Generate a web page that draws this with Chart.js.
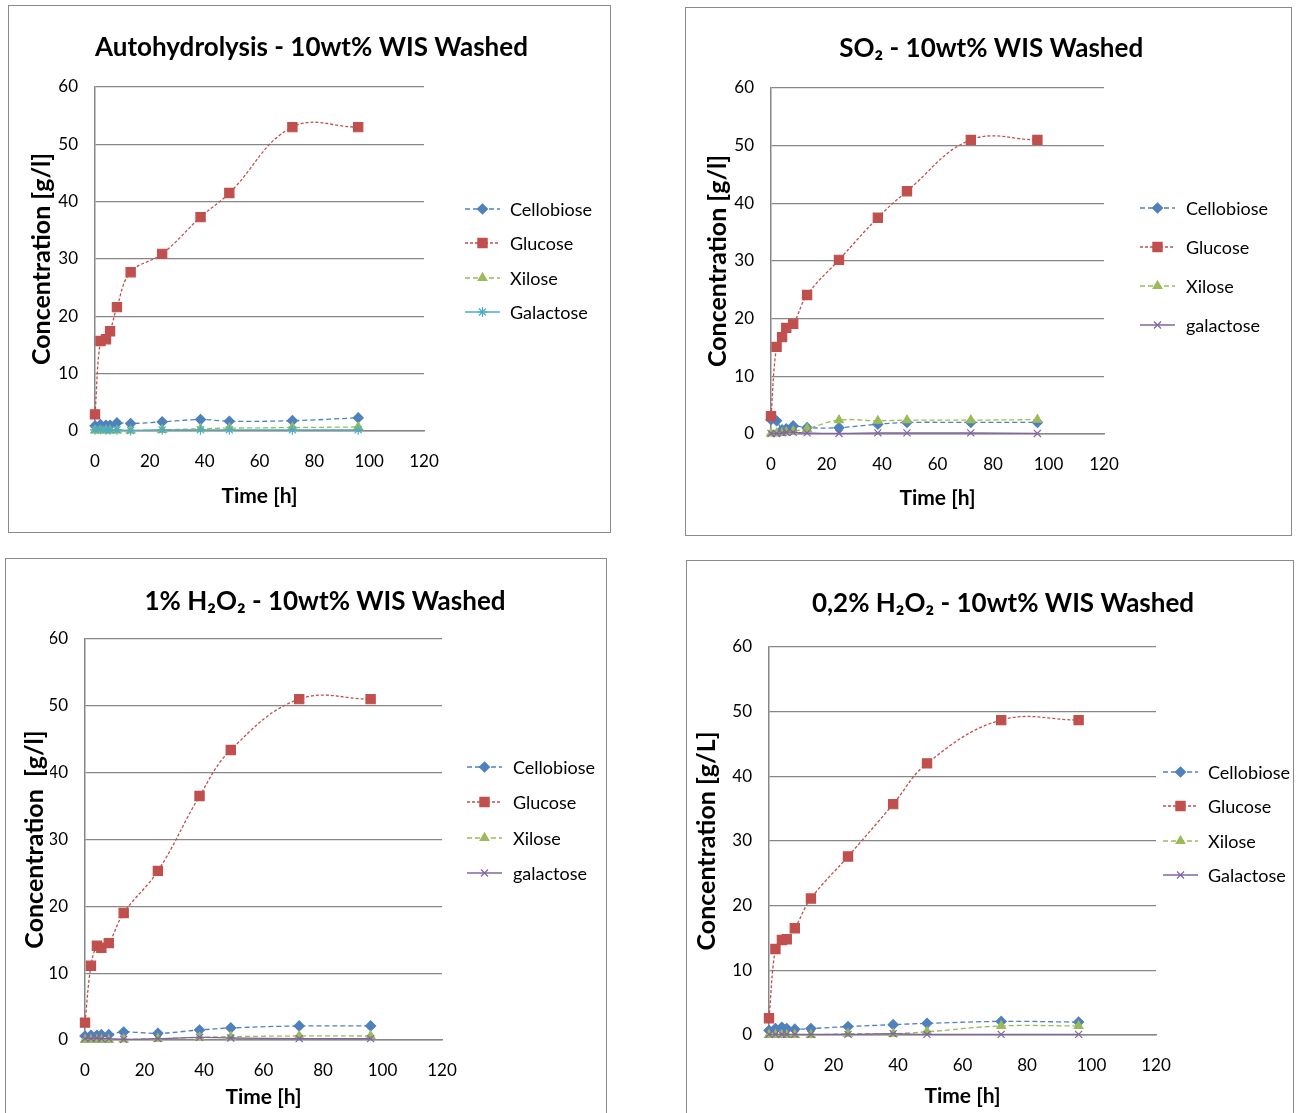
<!DOCTYPE html>
<html>
<head>
<meta charset="utf-8">
<script src="https://cdn.jsdelivr.net/npm/chart.js@4.4.1/dist/chart.umd.min.js"></script>
<style>
  body { margin: 0; background: #fff; width: 1301px; height: 1113px; overflow: hidden; position: relative; }
  .panel { position: absolute; border: 1px solid #8a8a8a; box-sizing: border-box; background: #fff; }
  .panel canvas { display: block; }
</style>
</head>
<body>
<div class="panel" style="left:8px;top:5px;width:603px;height:528px"><canvas id="c1" width="601" height="526"></canvas></div>
<div class="panel" style="left:685px;top:7px;width:607px;height:529px"><canvas id="c2" width="605" height="527"></canvas></div>
<div class="panel" style="left:5px;top:558px;width:602px;height:560px"><canvas id="c3" width="600" height="558"></canvas></div>
<div class="panel" style="left:686px;top:560px;width:608px;height:560px"><canvas id="c4" width="606" height="558"></canvas></div>

<script>
// sampling times (h), shared by all four experiments
var timeH = [0, 2, 4, 5.5, 8, 13, 24.5, 38.5, 49, 72, 96];
var xTicks = [0, 20, 40, 60, 80, 100, 120];
var yTicks = [0, 10, 20, 30, 40, 50, 60];

// Autohydrolysis - 10wt% WIS Washed
var autoCellobiose = [0.9, 1.1, 1.0, 1.0, 1.4, 1.3, 1.6, 2.0, 1.7, 1.8, 2.3];
var autoGlucose    = [2.9, 15.7, 16.0, 17.4, 21.6, 27.7, 30.9, 37.3, 41.5, 53.0, 53.0];
var autoXilose     = [0.1, 0.1, 0.1, 0.1, 0.1, 0.1, 0.2, 0.4, 0.5, 0.6, 0.7];
var autoGalactose  = [0.2, 0.3, 0.2, 0.2, 0.2, 0.1, 0.2, 0.2, 0.2, 0.2, 0.2];

// SO2 - 10wt% WIS Washed
var so2Cellobiose = [2.5, 2.3, 0.7, 0.9, 1.4, 1.1, 1.1, 1.7, 2.0, 2.0, 2.0];
var so2Glucose    = [3.1, 15.1, 16.8, 18.4, 19.1, 24.1, 30.2, 37.5, 42.1, 51.0, 51.0];
var so2Xilose     = [0.1, 0.1, 0.2, 0.3, 0.5, 0.9, 2.4, 2.3, 2.4, 2.4, 2.5];
var so2Galactose  = [0.1, 0.1, 0.2, 0.3, 0.3, 0.2, 0.1, 0.2, 0.2, 0.2, 0.1];

// 1% H2O2 - 10wt% WIS Washed
var h1Cellobiose = [0.6, 0.7, 0.7, 0.8, 0.8, 1.2, 1.0, 1.5, 1.8, 2.1, 2.1];
var h1Glucose    = [2.6, 11.1, 14.1, 13.8, 14.5, 19.0, 25.3, 36.5, 43.4, 51.0, 51.0];
var h1Xilose     = [0.0, 0.0, 0.0, 0.0, 0.0, 0.1, 0.2, 0.4, 0.5, 0.6, 0.6];
var h1Galactose  = [0.2, 0.2, 0.3, 0.2, 0.2, 0.1, 0.2, 0.4, 0.3, 0.2, 0.2];

// 0,2% H2O2 - 10wt% WIS Washed
var h02Cellobiose = [0.7, 1.0, 1.2, 1.0, 0.9, 1.0, 1.3, 1.6, 1.8, 2.1, 2.0];
var h02Glucose    = [2.6, 13.3, 14.7, 14.8, 16.5, 21.1, 27.6, 35.7, 42.0, 48.7, 48.7];
var h02Xilose     = [0.0, 0.0, 0.0, 0.0, 0.0, 0.0, 0.2, 0.2, 0.5, 1.4, 1.4];
var h02Galactose  = [0.1, 0.1, 0.1, 0.1, 0.1, 0.1, 0.1, 0.2, 0.1, 0.1, 0.1];

Chart.defaults.font.family = 'Lato, "Liberation Sans", sans-serif';
Chart.defaults.color = '#000';

var FONT = 'Lato, "Liberation Sans", sans-serif';
var GRID = '#868686';

function pts(vals) {
  return timeH.map(function (t, i) { return { x: t, y: vals[i] }; });
}

// legend drawn at the right, Excel style: line + marker + name
var sideLegend = {
  id: 'sideLegend',
  afterDraw: function (chart, args, opts) {
    var ctx = chart.ctx;
    chart.data.datasets.forEach(function (ds, i) {
      var y = opts.rows[i];
      ctx.save();
      ctx.strokeStyle = ds.borderColor;
      ctx.lineWidth = ds.borderWidth;
      ctx.setLineDash(ds.borderDash || []);
      ctx.beginPath();
      ctx.moveTo(opts.x0, y);
      ctx.lineTo(opts.x1, y);
      ctx.stroke();
      ctx.setLineDash([]);
      ctx.fillStyle = ds.pointBackgroundColor;
      ctx.strokeStyle = ds.pointBorderColor;
      ctx.lineWidth = ds.pointBorderWidth;
      Chart.helpers.drawPoint(ctx, {
        pointStyle: ds.pointStyle, radius: ds.pointRadius,
        borderWidth: ds.pointBorderWidth, rotation: 0
      }, (opts.x0 + opts.x1) / 2, y);
      ctx.fillStyle = '#000';
      ctx.font = '18px ' + FONT;
      ctx.textBaseline = 'middle';
      ctx.textAlign = 'left';
      ctx.fillText(ds.label, opts.tx, y + 1);
      ctx.restore();
    });
  }
};

function makeChart(id, c) {
  var ds = [
    { label: 'Cellobiose', data: pts(c.cel), borderColor: '#4F81BD', pointBackgroundColor: '#4F81BD',
      pointBorderColor: '#4F81BD', borderDash: [5, 3], pointStyle: 'rectRot', pointRadius: 5, order: 3 },
    { label: 'Glucose', data: pts(c.glu), borderColor: '#C0504D', pointBackgroundColor: '#C0504D',
      pointBorderColor: '#C0504D', borderDash: [3, 2], pointStyle: 'rect', pointRadius: 6.5, order: 2 },
    { label: 'Xilose', data: pts(c.xil), borderColor: '#9BBB59', pointBackgroundColor: '#9BBB59',
      pointBorderColor: '#9BBB59', borderDash: [5, 3], pointStyle: 'triangle', pointRadius: 5, order: 1 },
    { label: c.galName, data: pts(c.gal), borderColor: c.galColor, pointBackgroundColor: c.galColor,
      pointBorderColor: c.galColor, borderDash: [], pointStyle: c.galStyle, pointRadius: 5, order: 0 }
  ];
  ds.forEach(function (d) {
    d.borderWidth = 1.3;
    d.pointBorderWidth = 1.2;
    d.pointHoverRadius = d.pointRadius;
    d.tension = 0.4;
    d.fill = false;
    d.clip = false;
  });

  var L = c.layout;
  return new Chart(document.getElementById(id), {
    type: 'line',
    data: { datasets: ds },
    plugins: [sideLegend],
    options: {
      responsive: false,
      animation: false,
      layout: { padding: { left: L.padL, right: L.padR, top: 0, bottom: L.padB } },
      plugins: {
        legend: { display: false },
        tooltip: { enabled: false },
        title: {
          display: true, text: c.title, color: '#000',
          font: { size: 26, weight: 'bold', family: FONT },
          padding: { top: L.titleTop, bottom: L.titleBottom }
        },
        sideLegend: L.legend
      },
      scales: {
        x: {
          type: 'linear', min: 0, max: 120,
          afterBuildTicks: function (s) { s.ticks = xTicks.map(function (v) { return { value: v }; }); },
          afterFit: function (s) { s.height = L.xHeight; },
          grid: { display: false },
          border: { display: true, color: GRID, width: 1.5 },
          ticks: { font: { size: 17 }, padding: 12, maxRotation: 0 },
          title: { display: true, text: 'Time [h]', font: { size: 21, weight: 'bold' }, padding: 0 }
        },
        y: {
          min: 0, max: 60,
          afterBuildTicks: function (s) { s.ticks = yTicks.map(function (v) { return { value: v }; }); },
          afterFit: function (s) { s.width = L.yWidth; },
          grid: { color: GRID, lineWidth: 1.2, drawTicks: false },
          border: { display: true, color: GRID, width: 1.5 },
          ticks: { font: { size: 17 }, padding: 17 },
          title: { display: true, text: c.yTitle, font: { size: 25, weight: 'bold' },
                   padding: { top: L.yTitlePad, bottom: 0 } }
        },
        yR: {
          position: 'right', display: true,
          afterFit: function (s) { s.width = L.rightWidth; },
          grid: { display: false }, border: { display: false },
          ticks: { display: false }
        }
      }
    }
  });
}

makeChart('c1', {
  title: 'Autohydrolysis - 10wt% WIS Washed', yTitle: 'Concentration [g/l]',
  cel: autoCellobiose, glu: autoGlucose, xil: autoXilose, gal: autoGalactose,
  galName: 'Galactose', galColor: '#4BACC6', galStyle: 'star',
  layout: { padL: 20, padR: 16, padB: 23.4, titleTop: 26.4, titleBottom: 23.4, yWidth: 66,
            yTitlePad: -2, rightWidth: 170, xHeight: 77.6,
            legend: { x0: 456, x1: 491, tx: 501, rows: [203, 237, 272, 306] } }
});

makeChart('c2', {
  title: 'SO\u2082 - 10wt% WIS Washed', yTitle: 'Concentration [g/l]',
  cel: so2Cellobiose, glu: so2Glucose, xil: so2Xilose, gal: so2Galactose,
  galName: 'galactose', galColor: '#8064A2', galStyle: 'crossRot',
  layout: { padL: 19.4, padR: 14, padB: 24.4, titleTop: 25.4, titleBottom: 23.4, yWidth: 65.6,
            yTitlePad: -2.4, rightWidth: 173, xHeight: 76.6,
            legend: { x0: 454, x1: 489, tx: 500, rows: [200, 239, 278, 317] } }
});

makeChart('c3', {
  title: '1% H\u2082O\u2082 - 10wt% WIS Washed', yTitle: 'Concentration  [g/l]',
  cel: h1Cellobiose, glu: h1Glucose, xil: h1Xilose, gal: h1Galactose,
  galName: 'galactose', galColor: '#8064A2', galStyle: 'crossRot',
  layout: { padL: 44, padR: 6, padB: 7.4, titleTop: 27.4, titleBottom: 21.4, yWidth: 35,
            yTitlePad: -30, rightWidth: 158, xHeight: 69.6,
            legend: { x0: 461, x1: 496, tx: 507, rows: [208, 243, 279, 314] } }
});

makeChart('c4', {
  title: '0,2% H\u2082O\u2082 - 10wt% WIS Washed', yTitle: 'Concentration [g/L]',
  cel: h02Cellobiose, glu: h02Glucose, xil: h02Xilose, gal: h02Galactose,
  galName: 'Galactose', galColor: '#8064A2', galStyle: 'crossRot',
  layout: { padL: 26, padR: 0, padB: 10.4, titleTop: 27.4, titleBottom: 27.4, yWidth: 56,
            yTitlePad: -21, rightWidth: 137, xHeight: 73.6,
            legend: { x0: 476, x1: 511, tx: 521, rows: [211, 245, 280, 314] } }
});
</script>
</body>
</html>
